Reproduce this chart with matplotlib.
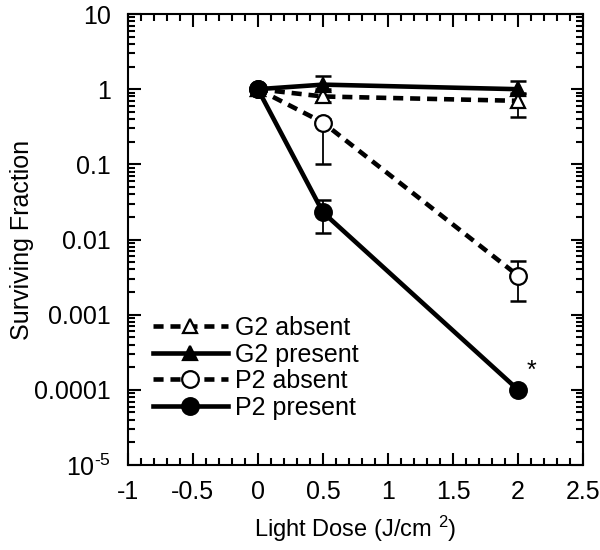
import matplotlib
matplotlib.use("Agg")
import matplotlib.pyplot as plt
from matplotlib.ticker import LogLocator, MultipleLocator, FixedLocator, NullFormatter
import numpy as np

plt.rcParams['font.family'] = ['Liberation Sans', 'DejaVu Sans']
plt.rcParams['mathtext.fontset'] = 'custom'
plt.rcParams['mathtext.rm'] = 'Liberation Sans'
plt.rcParams['mathtext.it'] = 'Liberation Sans'

dose = [0, 0.5, 2]

g2_absent = [1.0, 0.80, 0.70]
g2_absent_lo = [1.0, 0.67, 0.43]
g2_absent_hi = [1.0, 0.95, 0.85]

g2_present = [1.0, 1.15, 1.0]
g2_present_lo = [1.0, 1.0, 0.9]
g2_present_hi = [1.0, 1.5, 1.28]

p2_absent = [1.0, 0.36, 0.0033]
p2_absent_lo = [1.0, 0.10, 0.0015]
p2_absent_hi = [1.0, 0.40, 0.0052]

p2_present = [1.0, 0.023, 0.0001]
p2_present_lo = [1.0, 0.0123, 0.0001]
p2_present_hi = [1.0, 0.034, 0.0001]

x_ticks = [-1, -0.5, 0, 0.5, 1, 1.5, 2, 2.5]
x_tick_labels = ['-1', '-0.5', '0', '0.5', '1', '1.5', '2', '2.5']
y_ticks = [1e-5, 1e-4, 1e-3, 1e-2, 1e-1, 1, 10]
y_tick_labels = ['10$^{\\text{-5}}$', '0.0001', '0.001', '0.01', '0.1', '1', '10']

series = [
    ("G2 absent", g2_absent, g2_absent_lo, g2_absent_hi, '^', 'white', 'dashed'),
    ("G2 present", g2_present, g2_present_lo, g2_present_hi, '^', 'black', 'solid'),
    ("P2 absent", p2_absent, p2_absent_lo, p2_absent_hi, 'o', 'white', 'dashed'),
    ("P2 present", p2_present, p2_present_lo, p2_present_hi, 'o', 'black', 'solid'),
]

fig = plt.figure(figsize=(6, 5.5), dpi=100)
ax = fig.add_axes([0.213, 0.1545, 0.759, 0.82])

for label, y, lo, hi, mk, fc, ls in series:
    y = np.array(y); lo = np.array(lo); hi = np.array(hi)
    yerr = np.vstack([y - lo, hi - y])
    ax.errorbar(dose, y, yerr=yerr, fmt='none', ecolor='black', elinewidth=1.3,
                capsize=6, capthick=1.8, zorder=2)
    ms = 12 if mk == 'o' else 10
    line, = ax.plot(dose, y, color='black', lw=3.3, marker=mk, ms=ms,
                    mfc=fc, mec='black', mew=1.6, label=label, zorder=3)
    if ls == 'dashed':
        line.set_dashes((2.2, 1.5))

ax.text(2.1, 1.8e-4, '*', fontsize=18, ha='center', va='center')

ax.set_yscale('log')
ax.set_xlim(-1, 2.5)
ax.set_ylim(1e-5, 10)
ax.xaxis.set_major_locator(FixedLocator(x_ticks))
ax.xaxis.set_minor_locator(MultipleLocator(0.1))
ax.yaxis.set_major_locator(FixedLocator(y_ticks))
ax.yaxis.set_minor_locator(LogLocator(base=10, subs=np.arange(2, 10), numticks=20))
ax.yaxis.set_minor_formatter(NullFormatter())
ax.set_yticklabels(y_tick_labels)
ax.set_xticklabels(x_tick_labels)

ax.tick_params(which='both', direction='in', top=True, right=True, labelsize=18, width=1.5)
ax.tick_params(which='major', length=9)
ax.tick_params(which='minor', length=5)
ax.tick_params(axis='x', pad=11)
ax.tick_params(axis='y', pad=12)
for s in ax.spines.values():
    s.set_linewidth(1.5)

ax.set_xlabel('Light Dose (J/cm $^{2}$)', fontsize=17, labelpad=7)
ax.set_ylabel('Surviving Fraction', fontsize=18, labelpad=0)

leg = ax.legend(loc='upper left', bbox_to_anchor=(0.055, 0.33), frameon=False, fontsize=18,
                handlelength=3.0, handletextpad=0.3, labelspacing=0.1,
                borderaxespad=0.0, borderpad=0.0)

fig.savefig('out.png', dpi=100)
